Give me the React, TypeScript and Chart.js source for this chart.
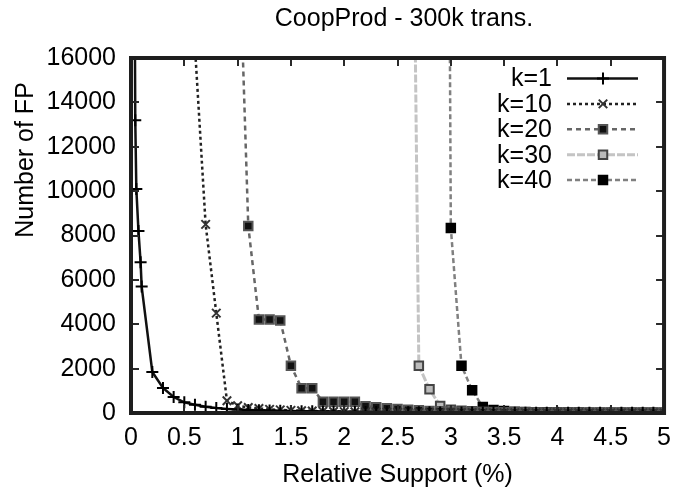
import React, { useEffect, useRef } from "react";
import { Chart, registerables } from "chart.js";

Chart.register(...registerables);

// ---- data ----
const TITLE = "CoopProd - 300k trans.";
const X_TITLE = "Relative Support (%)";
const Y_TITLE = "Number of FP";

const seriesNames = ["k=1", "k=10", "k=20", "k=30", "k=40"];

// relative support (%) values at which the series are sampled
const support = [
  0.03, 0.04, 0.05, 0.07, 0.09,
  0.1, 0.2, 0.3, 0.4, 0.5, 0.6, 0.7, 0.8, 0.9, 1.0,
  1.1, 1.2, 1.3, 1.4, 1.5, 1.6, 1.7, 1.8, 1.9, 2.0,
  2.1, 2.2, 2.3, 2.4, 2.5, 2.6, 2.7, 2.8, 2.9, 3.0,
  3.1, 3.2, 3.3, 3.4, 3.5, 3.6, 3.7, 3.8, 3.9, 4.0,
  4.1, 4.2, 4.3, 4.4, 4.5, 4.6, 4.7, 4.8, 4.9, 5.0,
];

// each series starts at the given support value and follows the grid above
const k1From = 0.03;
const k1Values = [
  24000, 13200, 10100, 8200, 6800,
  5700, 1850, 1130, 720, 480, 370, 280, 225, 185, 155,
  135, 120, 108, 98, 90, 82, 75, 68, 62, 57,
  52, 48, 44, 40, 37, 34, 31, 29, 27, 25,
  23, 21, 19, 18, 17, 16, 15, 14, 13, 12,
  11, 10, 9, 9, 8, 8, 7, 7, 6, 6,
];

const k10From = 0.6;
const k10Values = [
  16500, 8500, 4500, 550, 330,
  250, 200, 165, 140, 120, 105, 92, 80, 70, 62,
  55, 49, 44, 40, 36, 32, 29, 26, 24, 22,
  20, 18, 17, 15, 14, 13, 12, 11, 10, 9,
  8, 8, 7, 7, 6, 6, 5, 5, 5, 4,
];

const k20From = 1.0;
const k20Values = [
  23500,
  8430, 4215, 4215, 4170, 2130, 1120, 1120, 512, 512, 512,
  512, 300, 260, 220, 185, 150, 120, 95, 75, 60,
  50, 42, 36, 31, 27, 24, 21, 19, 17, 15,
  14, 12, 11, 10, 9, 8, 7, 7, 6, 6,
];

const k30From = 2.6;
const k30Values = [
  45000, 2130, 1070, 320, 150,
  100, 75, 58, 46, 38, 31, 26, 22, 19, 16,
  14, 12, 11, 10, 9, 8, 7, 6, 6, 5,
];

const k40From = 2.9;
const k40Values = [
  100000, 8340,
  2130, 1030, 270, 130, 85, 62, 48, 38, 31, 26,
  22, 18, 15, 13, 11, 10, 9, 8, 7, 6,
];

const yMin = 0;
const yMax = 16000;
const yStep = 2000;
const xMin = 0;
const xMax = 5;
const xStep = 0.5;

// ---- helpers ----
const FONT = "'Liberation Sans', Arial, Helvetica, sans-serif";
const FS = 25;

function toPoints(from: number, values: number[]) {
  const start = support.findIndex((s) => Math.abs(s - from) < 1e-9);
  return values.map((v, i) => ({ x: support[start + i], y: v }));
}

function drawMarker(ctx: CanvasRenderingContext2D, style: string, x: number, y: number, r: number, fill: string, stroke: string, lw: number) {
  ctx.save();
  ctx.lineWidth = lw;
  ctx.strokeStyle = stroke;
  ctx.fillStyle = fill;
  ctx.setLineDash([]);
  ctx.beginPath();
  if (style === "cross") {
    ctx.moveTo(x - r, y); ctx.lineTo(x + r, y);
    ctx.moveTo(x, y - r); ctx.lineTo(x, y + r);
    ctx.stroke();
  } else if (style === "crossRot") {
    const d = r * Math.SQRT1_2;
    ctx.moveTo(x - d, y - d); ctx.lineTo(x + d, y + d);
    ctx.moveTo(x - d, y + d); ctx.lineTo(x + d, y - d);
    ctx.stroke();
  } else {
    const s = r * Math.SQRT1_2;
    ctx.rect(x - s, y - s, 2 * s, 2 * s);
    ctx.fill();
    ctx.stroke();
  }
  ctx.restore();
}

const decorPlugin = {
  id: "gnuplotDecor",
  afterDatasetsDraw(chart: any) {
    const { ctx, chartArea: a, scales } = chart;
    const xs = scales.x;
    const ys = scales.y;
    ctx.save();
    // inward tick marks on all four sides
    ctx.strokeStyle = "#2a2a2a";
    ctx.lineWidth = 2;
    ctx.setLineDash([]);
    const tl = 8;
    ctx.beginPath();
    for (let v = yMin; v <= yMax; v += yStep) {
      const py = Math.round(ys.getPixelForValue(v));
      ctx.moveTo(a.left, py); ctx.lineTo(a.left + tl, py);
      ctx.moveTo(a.right, py); ctx.lineTo(a.right - tl, py);
    }
    for (let v = xMin; v <= xMax + 1e-9; v += xStep) {
      const px = Math.round(xs.getPixelForValue(v));
      ctx.moveTo(px, a.bottom); ctx.lineTo(px, a.bottom - tl);
      ctx.moveTo(px, a.top); ctx.lineTo(px, a.top + tl);
    }
    ctx.stroke();
    // frame
    ctx.strokeStyle = "#1e1e1e";
    ctx.lineWidth = 4;
    ctx.strokeRect(a.left, a.top, a.right - a.left, a.bottom - a.top);

    // legend (top right, inside the frame)
    ctx.font = `${FS}px ${FONT}`;
    ctx.fillStyle = "#000";
    ctx.textAlign = "right";
    ctx.textBaseline = "middle";
    chart.data.datasets.forEach((ds: any, i: number) => {
      const y = 78.5 + i * 25.4;
      ctx.fillText(ds.label, 552, y + 1);
      ctx.save();
      ctx.strokeStyle = ds.borderColor;
      ctx.lineWidth = ds.borderWidth;
      ctx.setLineDash(ds.borderDash || []);
      ctx.beginPath();
      ctx.moveTo(567, y);
      ctx.lineTo(638, y);
      ctx.stroke();
      ctx.restore();
      drawMarker(ctx, ds.pointStyle, 603, y, ds.pointRadius, ds.pointBackgroundColor, ds.pointBorderColor, ds.pointBorderWidth);
    });

    // title
    ctx.textAlign = "center";
    ctx.fillText(TITLE, 404, 19);

    // y axis title
    ctx.save();
    ctx.translate(26, 160);
    ctx.rotate(-Math.PI / 2);
    ctx.fillText(Y_TITLE, 0, 0);
    ctx.restore();
    ctx.restore();
  },
};

export default function App() {
  const ref = useRef<HTMLCanvasElement | null>(null);

  useEffect(() => {
    if (!ref.current) return;
    const chart = new Chart(ref.current, {
      type: "line",
      data: {
        datasets: [
          {
            label: seriesNames[0],
            data: toPoints(k1From, k1Values),
            borderColor: "#111",
            borderWidth: 2.5,
            borderDash: [],
            pointStyle: "cross",
            pointRadius: 6,
            pointBorderWidth: 2,
            pointBorderColor: "#000",
            pointBackgroundColor: "#000",
          },
          {
            label: seriesNames[1],
            data: toPoints(k10From, k10Values),
            borderColor: "#222",
            borderWidth: 2.5,
            borderDash: [3, 3],
            pointStyle: "crossRot",
            pointRadius: 6,
            pointBorderWidth: 2,
            pointBorderColor: "#333",
            pointBackgroundColor: "#333",
          },
          {
            label: seriesNames[2],
            data: toPoints(k20From, k20Values),
            borderColor: "#666",
            borderWidth: 2.5,
            borderDash: [5, 4],
            pointStyle: "rect",
            pointRadius: 6,
            pointBorderWidth: 2,
            pointBorderColor: "#555",
            pointBackgroundColor: "#111",
          },
          {
            label: seriesNames[3],
            data: toPoints(k30From, k30Values),
            borderColor: "#c4c4c4",
            borderWidth: 3,
            borderDash: [8, 2],
            pointStyle: "rect",
            pointRadius: 6,
            pointBorderWidth: 2,
            pointBorderColor: "#444",
            pointBackgroundColor: "#bbb",
          },
          {
            label: seriesNames[4],
            data: toPoints(k40From, k40Values),
            borderColor: "#808080",
            borderWidth: 2.5,
            borderDash: [5, 3],
            pointStyle: "rect",
            pointRadius: 6,
            pointBorderWidth: 2,
            pointBorderColor: "#000",
            pointBackgroundColor: "#000",
          },
        ],
      },
      options: {
        responsive: false,
        animation: false,
        layout: { padding: { left: 0, top: 58, right: 14, bottom: 0 } },
        plugins: {
          legend: { display: false },
          title: { display: false },
          tooltip: { enabled: false },
        },
        elements: { line: { tension: 0 } },
        scales: {
          x: {
            type: "linear",
            min: xMin,
            max: xMax,
            grid: { display: false, drawTicks: false },
            border: { display: false },
            ticks: {
              stepSize: xStep,
              padding: 10,
              color: "#000",
              font: { family: FONT, size: FS },
              maxRotation: 0,
              callback: (v: any) => String(Number(v)),
            },
            title: {
              display: true,
              text: X_TITLE,
              color: "#000",
              font: { family: FONT, size: FS, lineHeight: 1 },
              padding: { top: 0, bottom: 0 },
            },
            afterFit: (s: any) => {
              s.height = 75;
            },
          },
          y: {
            type: "linear",
            min: yMin,
            max: yMax,
            grid: { display: false, drawTicks: false },
            border: { display: false },
            ticks: {
              stepSize: yStep,
              padding: 15,
              color: "#000",
              font: { family: FONT, size: FS },
              callback: (v: any) => String(v),
            },
            afterFit: (s: any) => {
              s.width = 131;
            },
          },
        },
      },
      plugins: [decorPlugin],
    } as any);
    return () => chart.destroy();
  }, []);

  return (
    <div style={{ position: "fixed", left: 0, top: 0, width: 681, height: 488, background: "#fff" }}>
      <canvas ref={ref} width={681} height={488} style={{ display: "block", width: 681, height: 488 }} />
    </div>
  );
}
